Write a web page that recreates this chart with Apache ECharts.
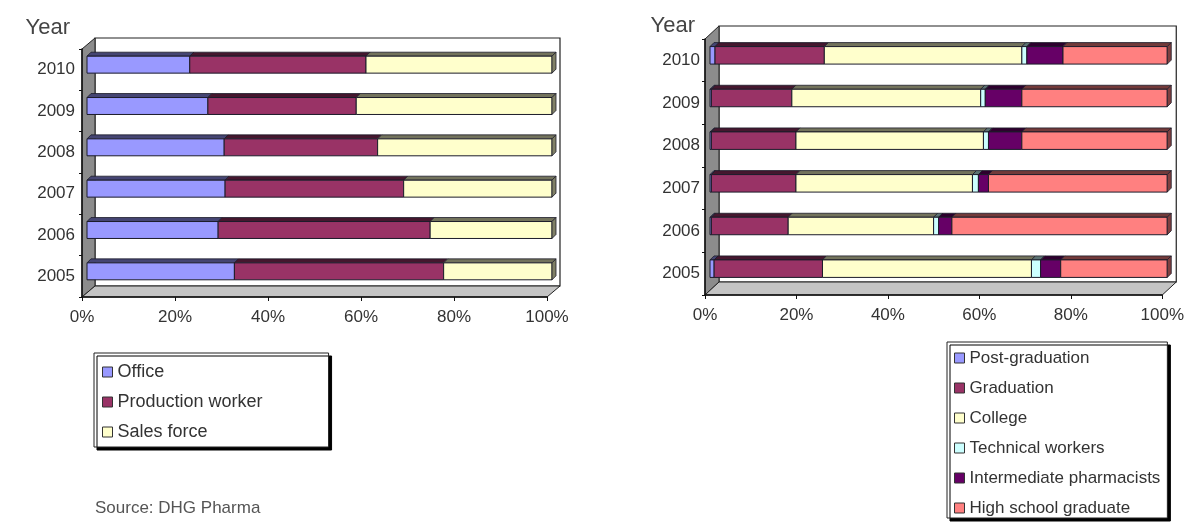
<!DOCTYPE html>
<html>
<head>
<meta charset="utf-8">
<script src="https://cdn.jsdelivr.net/npm/echarts@6/dist/echarts.min.js"></script>
<style>
  html, body { margin: 0; padding: 0; background: #ffffff; }
  #chart { width: 1187px; height: 522px; }
</style>
</head>
<body>
<div id="chart"></div>
<script>
// Categories (bottom to top)
const years = ['2005', '2006', '2007', '2008', '2009', '2010'];

// Workforce by function, % of total
const office           = [31.7, 28.2, 29.7, 29.5, 26.0, 22.1];
const productionWorker = [45.0, 45.6, 38.4, 33.0, 31.9, 37.9];
const salesForce       = [23.3, 26.2, 31.9, 37.5, 42.1, 40.0];

// Workforce by education, % of total
const postGraduation          = [0.9, 0.3, 0.3, 0.3, 0.3, 1.1];
const graduation              = [23.7, 16.8, 18.5, 18.5, 17.6, 23.9];
const college                 = [45.7, 31.8, 38.6, 41.0, 41.3, 43.2];
const technicalWorkers        = [2.0, 1.1, 1.3, 1.1, 1.0, 1.1];
const intermediatePharmacists = [4.4, 2.9, 2.2, 7.3, 8.0, 7.9];
const highSchoolGraduate      = [23.3, 47.1, 39.1, 31.8, 31.8, 22.8];

const functionSeries = [
  { name: 'Office', values: office, color: '#9999ff' },
  { name: 'Production worker', values: productionWorker, color: '#993366' },
  { name: 'Sales force', values: salesForce, color: '#ffffcc' }
];
const educationSeries = [
  { name: 'Post-graduation', values: postGraduation, color: '#9999ff' },
  { name: 'Graduation', values: graduation, color: '#993366' },
  { name: 'College', values: college, color: '#ffffcc' },
  { name: 'Technical workers', values: technicalWorkers, color: '#ccffff' },
  { name: 'Intermediate pharmacists', values: intermediatePharmacists, color: '#660066' },
  { name: 'High school graduate', values: highSchoolGraduate, color: '#ff8080' }
];

const FONT = 'Liberation Sans, Arial, sans-serif';
const TEXT = '#333333';
const EDGE = '#1c1c2a';
const BAR_FRACTION = 0.41;     // bar thickness relative to category band
const BAR_SHIFT = [5, -5];     // bars sit part-way into the depth of the box
const BAR_DEPTH = [4, -4];     // visible top / end faces of each bar

function shade(hex, k) {
  const c = echarts.color.parse(hex);
  const r = Math.round(c[0] * k), g = Math.round(c[1] * k), b = Math.round(c[2] * k);
  return 'rgb(' + r + ',' + g + ',' + b + ')';
}

// Front face + top face of one stacked segment; the last segment also gets an end cap.
function barRenderer(isLast) {
  return function (params, api) {
    const cat = api.value(2);
    const a = api.coord([api.value(0), cat]);
    const b = api.coord([api.value(1), cat]);
    const h = api.size([0, 1])[1] * BAR_FRACTION;
    const x0 = a[0] + BAR_SHIFT[0];
    const x1 = b[0] + BAR_SHIFT[0];
    const yt = a[1] + BAR_SHIFT[1] - h / 2;
    const yb = yt + h;
    const dx = BAR_DEPTH[0], dy = BAR_DEPTH[1];
    const color = api.visual('color');
    const dark = shade(color, 0.45);
    const children = [
      {
        type: 'polygon',
        shape: { points: [[x0, yt], [x1, yt], [x1 + dx, yt + dy], [x0 + dx, yt + dy]] },
        style: { fill: dark, stroke: EDGE, lineWidth: 0.8 }
      },
      {
        type: 'rect',
        shape: { x: x0, y: yt, width: x1 - x0, height: h },
        style: { fill: color, stroke: EDGE, lineWidth: 1 }
      }
    ];
    if (isLast) {
      children.push({
        type: 'polygon',
        shape: { points: [[x1, yt], [x1 + dx, yt + dy], [x1 + dx, yb + dy], [x1, yb]] },
        style: { fill: shade(color, 0.5), stroke: EDGE, lineWidth: 0.8 }
      });
    }
    return { type: 'group', children: children };
  };
}

// Back wall, side wall and floor of the 3-D box around each plot
function wallRenderer(depth) {
  return function (params) {
    const cs = params.coordSys;
    const x = cs.x, y = cs.y, w = cs.width, h = cs.height;
    const dx = depth[0], dy = depth[1];
    return {
      type: 'group',
      children: [
        { type: 'rect', shape: { x: x + dx, y: y + dy, width: w, height: h },
          style: { fill: '#ffffff', stroke: '#222', lineWidth: 1.2 } },
        { type: 'polygon', shape: { points: [[x, y], [x + dx, y + dy], [x + dx, y + h + dy], [x, y + h]] },
          style: { fill: '#8c8c8c', stroke: '#222', lineWidth: 1 } },
        { type: 'polygon', shape: { points: [[x, y + h], [x + dx, y + h + dy], [x + w + dx, y + h + dy], [x + w, y + h]] },
          style: { fill: '#c4c4c4', stroke: '#222', lineWidth: 1 } }
      ]
    };
  };
}

function stackedSeries(list, gridIndex) {
  const base = years.map(function () { return 0; });
  return list.map(function (s, k) {
    const data = s.values.map(function (v, i) {
      const start = base[i];
      base[i] = start + v;
      return [start, base[i], i];
    });
    return {
      type: 'custom',
      name: s.name,
      coordinateSystem: 'cartesian2d',
      xAxisIndex: gridIndex,
      yAxisIndex: gridIndex,
      itemStyle: { color: s.color },
      encode: { x: [0, 1], y: 2 },
      renderItem: barRenderer(k === list.length - 1),
      data: data,
      z: 3,
      silent: true
    };
  });
}

function wallSeries(gridIndex, depth) {
  return {
    type: 'custom',
    coordinateSystem: 'cartesian2d',
    xAxisIndex: gridIndex,
    yAxisIndex: gridIndex,
    encode: { x: 0, y: 1 },
    renderItem: wallRenderer(depth),
    data: [[0, 0]],
    z: 1,
    silent: true
  };
}

function valueAxis(gridIndex) {
  return {
    gridIndex: gridIndex,
    type: 'value',
    min: 0, max: 100, interval: 20,
    axisLine: { show: true, lineStyle: { color: '#111', width: 1.5 } },
    axisTick: { show: true, length: 4, lineStyle: { color: '#111' } },
    splitLine: { show: false },
    axisLabel: { formatter: '{value}%', fontSize: 17, color: TEXT, margin: 12, fontFamily: FONT },
    z: 5
  };
}

function categoryAxis(gridIndex, nameGap, namePad, labelMargin) {
  return {
    gridIndex: gridIndex,
    type: 'category',
    data: years,
    name: 'Year',
    nameLocation: 'end',
    nameGap: nameGap,
    nameTextStyle: { fontSize: 22, color: '#444', align: 'right', padding: [0, namePad, 0, 0], fontFamily: FONT },
    axisLine: { show: true, lineStyle: { color: '#111', width: 1.5 } },
    axisTick: { show: true, length: 3, lineStyle: { color: '#111' } },
    axisLabel: { fontSize: 17, color: TEXT, margin: labelMargin, fontFamily: FONT },
    z: 5
  };
}

const legendCommon = {
  orient: 'vertical',
  icon: 'rect',
  itemWidth: 10,
  itemHeight: 10,
  itemGap: 10,
  backgroundColor: '#ffffff',
  borderColor: '#222',
  borderWidth: 1,
  shadowColor: '#000',
  shadowBlur: 0,
  shadowOffsetX: 3,
  shadowOffsetY: 3,
  itemStyle: { borderColor: '#333', borderWidth: 1 },
  selectedMode: false
};

const chart = echarts.init(document.getElementById('chart'), null, { renderer: 'canvas' });
chart.setOption({
  backgroundColor: '#ffffff',
  animation: false,
  textStyle: { fontFamily: FONT },
  title: {
    text: 'Source: DHG Pharma',
    left: 95, top: 500, padding: 0,
    textStyle: { fontSize: 17, fontWeight: 'normal', color: '#555', fontFamily: FONT }
  },
  grid: [
    { left: 82, top: 49, width: 465, height: 248 },
    { left: 705, top: 39, width: 459, height: 256 }
  ],
  xAxis: [valueAxis(0), valueAxis(1)],
  yAxis: [categoryAxis(0, 10, 12, 7), categoryAxis(1, 2, 10, 5)],
  legend: [
    Object.assign({}, legendCommon, {
      data: functionSeries.map(function (s) { return s.name; }),
      left: 94, top: 353,
      padding: [9, 66, 5, 8],
      textStyle: { fontSize: 18, lineHeight: 20, color: TEXT, fontFamily: FONT }
    }),
    Object.assign({}, legendCommon, {
      data: educationSeries.map(function (s) { return s.name; }),
      left: 947, top: 342,
      padding: [6, 7, 0, 7],
      textStyle: { fontSize: 17, lineHeight: 20, color: TEXT, fontFamily: FONT }
    })
  ],
  series: [wallSeries(0, [13, -11]), wallSeries(1, [14, -13])]
    .concat(stackedSeries(functionSeries, 0))
    .concat(stackedSeries(educationSeries, 1))
});
</script>
</body>
</html>
